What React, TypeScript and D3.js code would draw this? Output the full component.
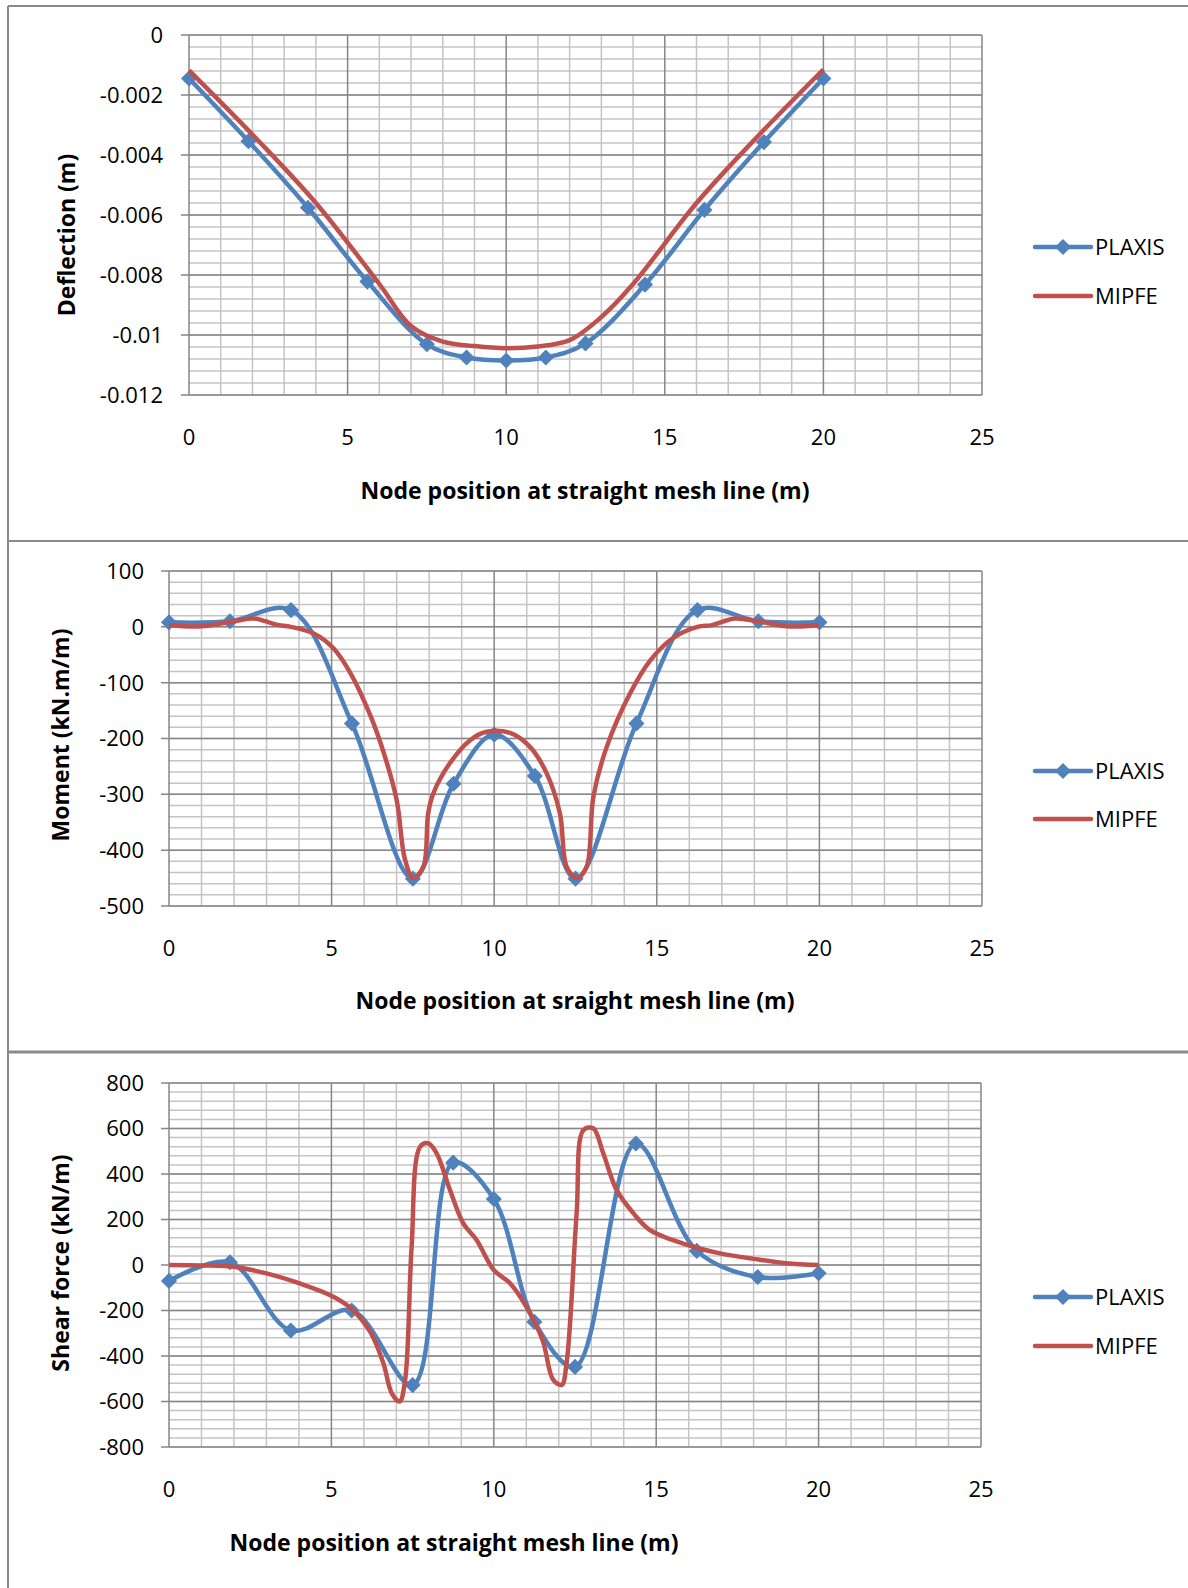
import React from "react";
import * as d3 from "d3";

// node positions along the mesh line (m)
const NODES = [0, 1.875, 3.75, 5.625, 7.5, 8.75, 10, 11.25, 12.5, 14.375, 16.25, 18.125, 20];
const X_TICKS = [0, 5, 10, 15, 20, 25];

// deflection (m)
const DEFL_PLAXIS = [-0.00145, -0.00354, -0.00576, -0.00822, -0.01031, -0.01075, -0.01085, -0.01075, -0.01028, -0.00832, -0.00583, -0.00357, -0.00145];
const DEFL_MIPFE_X = [0, 2, 4, 6, 7, 8, 9, 10, 11, 12, 13, 14, 16, 18, 20];
const DEFL_MIPFE = [-0.00118, -0.00332, -0.0056, -0.0083, -0.0097, -0.01022, -0.01037, -0.01044, -0.01038, -0.01017, -0.0094, -0.0083, -0.0056, -0.0033, -0.00115];
const DEFL_TICKS = [0, -0.002, -0.004, -0.006, -0.008, -0.01, -0.012];

// moment (kN.m/m)
const MOM_PLAXIS = [8, 10, 30, -173, -451, -281, -193, -267, -451, -173, 30, 10, 8];
const MOM_MIPFE_X = [0, 1, 2, 2.6, 3.3, 3.75, 4.45, 5.05, 5.6, 6.2, 6.6, 7.0, 7.25, 7.5, 7.82, 7.97, 8.13, 8.64, 9.26, 9.77, 10.49, 11.1, 11.61, 12.02, 12.23, 12.54, 12.84, 13.05, 13.46, 14.18, 14.8, 15.5, 16.25, 16.7, 17.4, 18.1, 19, 20];
const MOM_MIPFE = [3, 1, 10, 15, 4, 0, -12, -38, -85, -160, -225, -310, -415, -450, -430, -334, -298, -244, -203, -188, -190, -215, -262, -334, -430, -450, -430, -304, -215, -119, -60, -20, 0, 3, 15, 10, 1, 3];
const MOM_TICKS = [100, 0, -100, -200, -300, -400, -500];

// shear force (kN/m)
const SHEAR_PLAXIS = [-70, 12, -288, -200, -528, 450, 290, -250, -448, 534, 62, -53, -36];
const SHEAR_MIPFE_X = [0, 1, 2, 3, 4, 5, 5.6, 6.2, 6.6, 6.86, 7.1, 7.27, 7.47, 7.73, 7.98, 8.24, 8.65, 9.06, 9.47, 10, 10.5, 11, 11.5, 11.83, 12.09, 12.24, 12.55, 12.76, 13.06, 13.37, 13.78, 14.3, 14.8, 15.5, 16.25, 17, 18, 19, 20];
const SHEAR_MIPFE = [0, -2, -8, -37, -80, -135, -190, -295, -432, -564, -600, -505, 80, 520, 535, 491, 330, 183, 110, -22, -80, -183, -330, -505, -527, -432, 227, 593, 601, 491, 330, 227, 154, 110, 76, 50, 27, 8, 0];
const SHEAR_TICKS = [800, 600, 400, 200, 0, -200, -400, -600, -800];

const SERIES = ["PLAXIS", "MIPFE"];
const BLUE = "#4F81BD";
const RED = "#C0504D";
const FONT = "'Open Sans', Lato, sans-serif";

const panels = [
  {
    left: 189, right: 982, top: 35, bottom: 395,
    ticks: DEFL_TICKS, minor: 0.0004,
    plaxis: DEFL_PLAXIS, mx: DEFL_MIPFE_X, my: DEFL_MIPFE,
    tickRight: 163, xTickY: 437, xTitleX: 585, xTitleY: 491,
    xTitle: "Node position at straight mesh line (m)",
    yTitleX: 67, yTitleY: 235, yTitle: "Deflection (m)",
    legY: [247, 296],
  },
  {
    left: 169, right: 982, top: 571, bottom: 906,
    ticks: MOM_TICKS, minor: 20,
    plaxis: MOM_PLAXIS, mx: MOM_MIPFE_X, my: MOM_MIPFE,
    tickRight: 144, xTickY: 948, xTitleX: 575, xTitleY: 1001,
    xTitle: "Node position at sraight mesh line (m)",
    yTitleX: 61, yTitleY: 735, yTitle: "Moment (kN.m/m)",
    legY: [771, 819],
  },
  {
    left: 169, right: 981, top: 1083, bottom: 1447,
    ticks: SHEAR_TICKS, minor: 40,
    plaxis: SHEAR_PLAXIS, mx: SHEAR_MIPFE_X, my: SHEAR_MIPFE,
    tickRight: 144, xTickY: 1489, xTitleX: 454, xTitleY: 1543,
    xTitle: "Node position at straight mesh line (m)",
    yTitleX: 61, yTitleY: 1263, yTitle: "Shear force (kN/m)",
    legY: [1297, 1346],
  },
];

const diamond = d3.symbol(d3.symbolSquare, 130)();

function Panel({ p }: { p: any }) {
  const yMin = d3.min(p.ticks as number[])!;
  const yMax = d3.max(p.ticks as number[])!;
  const x = d3.scaleLinear().domain([0, 25]).range([p.left, p.right]);
  const y = d3.scaleLinear().domain([yMin, yMax]).range([p.bottom, p.top]);
  const minorX = d3.range(0, 26, 1);
  const nMinor = Math.round((yMax - yMin) / p.minor);
  const minorY = d3.range(0, nMinor + 1).map((i) => yMin + i * p.minor);

  const line = d3
    .line<[number, number]>()
    .x((d) => x(d[0]))
    .y((d) => y(d[1]))
    .curve(d3.curveCatmullRom.alpha(0.5));

  const plx: [number, number][] = NODES.map((n, i) => [n, p.plaxis[i]]);
  const mip: [number, number][] = p.mx.map((n: number, i: number) => [n, p.my[i]]);

  return (
    <g>
      {minorX.filter((v) => v % 5 !== 0).map((v) => (
        <line key={"vx" + v} x1={x(v)} x2={x(v)} y1={p.top} y2={p.bottom} stroke="#c4c4c4" strokeWidth={1.5} />
      ))}
      {minorY.map((v, i) => (
        <line key={"hy" + i} x1={p.left} x2={p.right} y1={y(v)} y2={y(v)} stroke="#c4c4c4" strokeWidth={1.5} />
      ))}
      {X_TICKS.map((v) => (
        <line key={"mx" + v} x1={x(v)} x2={x(v)} y1={p.top} y2={p.bottom} stroke="#868686" strokeWidth={1.5} />
      ))}
      {(p.ticks as number[]).map((v) => (
        <line key={"my" + v} x1={p.left - 8} x2={p.right} y1={y(v)} y2={y(v)} stroke="#868686" strokeWidth={1.5} />
      ))}
      {(p.ticks as number[]).map((v) => (
        <text key={"yl" + v} x={p.tickRight} y={y(v)} dy="0.36em" textAnchor="end" fontSize={22}>
          {String(v)}
        </text>
      ))}
      {X_TICKS.map((v) => (
        <text key={"xl" + v} x={x(v)} y={p.xTickY} dy="0.36em" textAnchor="middle" fontSize={22}>
          {v}
        </text>
      ))}
      <text x={p.xTitleX} y={p.xTitleY} dy="0.36em" textAnchor="middle" fontSize={23} fontWeight="bold">
        {p.xTitle}
      </text>
      <text
        transform={`translate(${p.yTitleX},${p.yTitleY}) rotate(-90)`}
        dy="0.36em"
        textAnchor="middle"
        fontSize={23}
        fontWeight="bold"
      >
        {p.yTitle}
      </text>

      <path d={line(plx)!} fill="none" stroke={BLUE} strokeWidth={4.5} strokeLinejoin="round" />
      {plx.map((d, i) => (
        <path key={"pm" + i} d={diamond!} transform={`translate(${x(d[0])},${y(d[1])}) rotate(45)`} fill={BLUE} />
      ))}
      <path d={line(mip)!} fill="none" stroke={RED} strokeWidth={4.5} strokeLinejoin="round" />

      {SERIES.map((s, i) => (
        <g key={s} transform={`translate(0,${p.legY[i]})`}>
          <line x1={1035} x2={1091} y1={0} y2={0} stroke={i === 0 ? BLUE : RED} strokeWidth={4.5} strokeLinecap="round" />
          {i === 0 && <path d={diamond!} transform="translate(1063,0) rotate(45)" fill={BLUE} />}
          <text x={1095} y={0} dy="0.36em" fontSize={22}>
            {s}
          </text>
        </g>
      ))}
    </g>
  );
}

export default function App() {
  return (
    <svg
      width={1188}
      height={1588}
      style={{ position: "absolute", left: 0, top: 0, background: "#fff" }}
      fontFamily={FONT}
    >
      <rect x={0} y={0} width={1188} height={1588} fill="#fff" />
      <line x1={8} x2={1188} y1={6} y2={6} stroke="#8a8a8a" strokeWidth={2} />
      <line x1={8} x2={8} y1={6} y2={1588} stroke="#8a8a8a" strokeWidth={2} />
      <line x1={8} x2={1188} y1={541} y2={541} stroke="#8a8a8a" strokeWidth={2} />
      <line x1={8} x2={1188} y1={1052} y2={1052} stroke="#8a8a8a" strokeWidth={3} />
      {panels.map((p, i) => (
        <Panel key={i} p={p} />
      ))}
    </svg>
  );
}
